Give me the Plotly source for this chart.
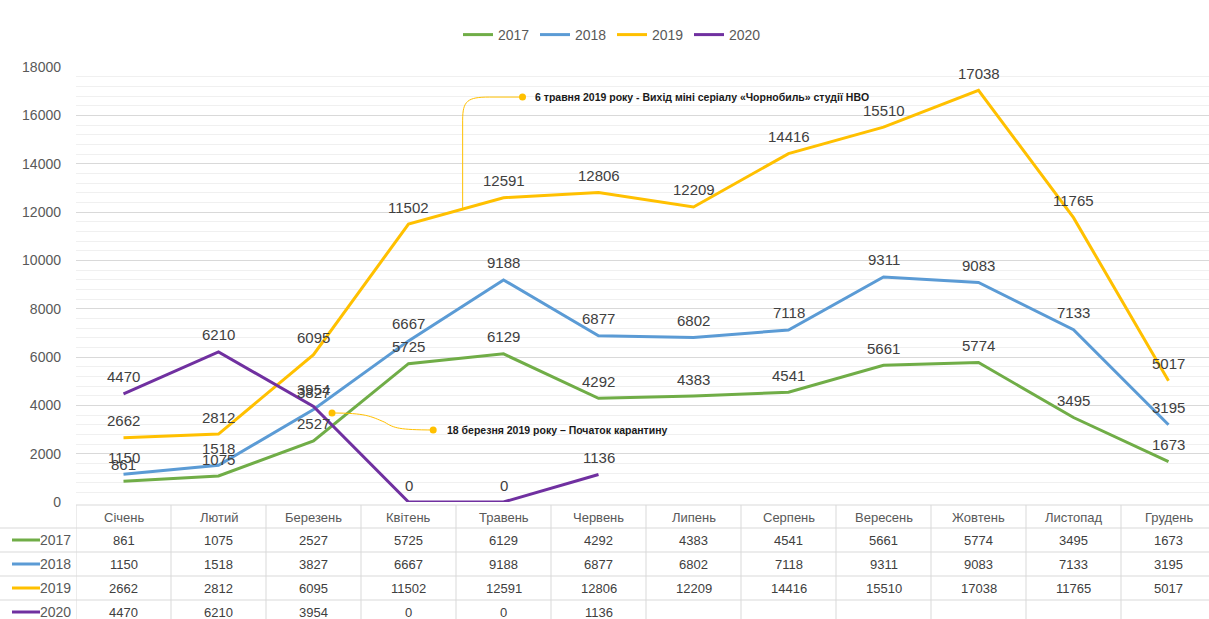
import plotly.graph_objects as go

W, H = 1209, 619

months = ["Січень", "Лютий", "Березень", "Квітень", "Травень", "Червень",
          "Липень", "Серпень", "Вересень", "Жовтень", "Листопад", "Грудень"]
years = ["2017", "2018", "2019", "2020"]
v2017 = [861, 1075, 2527, 5725, 6129, 4292, 4383, 4541, 5661, 5774, 3495, 1673]
v2018 = [1150, 1518, 3827, 6667, 9188, 6877, 6802, 7118, 9311, 9083, 7133, 3195]
v2019 = [2662, 2812, 6095, 11502, 12591, 12806, 12209, 14416, 15510, 17038, 11765, 5017]
v2020 = [4470, 6210, 3954, 0, 0, 1136]
series = [v2017, v2018, v2019, v2020]
colors = ["#70AD47", "#5B9BD5", "#FFC000", "#7030A0"]

note_hbo = "6 травня 2019 року - Вихід міні серіалу «Чорнобиль» студії HBO"
note_q = "18 березня 2019 року – Початок карантину"

FONT = "Liberation Sans"
TXT = "#404040"


def py(p):
    return 1 - p / H


# plot geometry (pixels)
X0 = 76          # left edge of plot / table
COLW = 95        # category width
Y0PX, YTOPPX = 502, 67
YMAX = 18000

fig = go.Figure()
xs = list(range(len(months)))
for name, vals, c in zip(years, series, colors):
    fig.add_trace(go.Scatter(
        x=xs[:len(vals)], y=vals, mode="lines", name=name,
        line=dict(color=c, width=3), hoverinfo="x+y"))

annotations = []
shapes = []

# data labels
for vals in series:
    for i, v in enumerate(vals):
        annotations.append(dict(
            x=i, y=v, xref="x", yref="y", text=str(v), showarrow=False,
            xanchor="center", yanchor="middle",
            yshift=17, font=dict(family=FONT, size=15, color=TXT)))

# callout 1: HBO Chornobyl (on the 2019 line)
xa = 3.57
ya = v2019[3] + (xa - 3) * (v2019[4] - v2019[3])
y_top = 16756
shapes.append(dict(
    type="path", xref="x", yref="y",
    path=f"M {xa},{ya} L {xa},15800 C {xa},16600 {xa+0.05},{y_top} {xa+0.28},{y_top} L 4.2,{y_top}",
    line=dict(color="#FFC000", width=1)))
# callout 2: quarantine
qx0, qy0 = 2.195, 3682
shapes.append(dict(
    type="path", xref="x", yref="y",
    path=f"M {qx0},{qy0} C 2.55,{qy0} 2.6,3550 2.75,3300 C 2.85,3050 2.9,2990 3.26,2979",
    line=dict(color="#FFC000", width=1)))
fig.add_trace(go.Scatter(
    x=[4.2, qx0, 3.26], y=[y_top, qy0, 2979], mode="markers",
    marker=dict(color="#FFC000", size=7), showlegend=False, hoverinfo="skip"))

annotations.append(dict(
    x=4.31, y=y_top, xref="x", yref="y", xanchor="left", yanchor="middle",
    text=f"<b>{note_hbo}</b>", showarrow=False,
    font=dict(family=FONT, size=10.5, color="#1a1a1a")))
annotations.append(dict(
    x=3.38, y=2979, xref="x", yref="y", xanchor="left", yanchor="middle",
    text=f"<b>{note_q}</b>", showarrow=False,
    font=dict(family=FONT, size=10.5, color="#1a1a1a")))

# data table
LINE = "#D9D9D9"
row_tops = [505, 528, 552, 576, 600, 624]
row_c = [517, 540, 564, 588, 612]
shapes.append(dict(type="line", xref="paper", yref="paper",
                   x0=X0 / W, x1=1, y0=py(row_tops[0]), y1=py(row_tops[0]),
                   line=dict(color=LINE, width=1)))
for yy in row_tops[1:]:
    shapes.append(dict(type="line", xref="paper", yref="paper",
                       x0=0, x1=1, y0=py(yy), y1=py(yy),
                       line=dict(color=LINE, width=1)))
for k in range(len(months) + 1):
    shapes.append(dict(type="line", xref="x", yref="paper",
                       x0=k - 0.5, x1=k - 0.5, y0=py(row_tops[0]), y1=0,
                       line=dict(color=LINE, width=1)))
for i, m in enumerate(months):
    annotations.append(dict(x=i, y=py(row_c[0]), xref="x", yref="paper",
                            xanchor="center", yanchor="middle",
                            text=m, showarrow=False,
                            font=dict(family=FONT, size=13, color="#595959")))
for r, (name, vals, c) in enumerate(zip(years, series, colors)):
    yc = py(row_c[r + 1])
    for i, v in enumerate(vals):
        annotations.append(dict(x=i, y=yc, xref="x", yref="paper",
                                xanchor="center", yanchor="middle",
                                text=str(v), showarrow=False,
                                font=dict(family=FONT, size=13, color=TXT)))
    annotations.append(dict(x=73 / W, y=yc, xref="paper", yref="paper",
                            xanchor="right", yanchor="middle",
                            text=name, showarrow=False,
                            font=dict(family=FONT, size=14, color="#595959")))
    shapes.append(dict(type="line", xref="paper", yref="paper",
                       x0=12 / W, x1=40 / W, y0=yc, y1=yc,
                       line=dict(color=c, width=3)))

fig.update_layout(
    width=W, height=H,
    margin=dict(l=0, r=0, t=0, b=0, pad=0, autoexpand=False),
    paper_bgcolor="white", plot_bgcolor="white",
    font=dict(family=FONT, color=TXT),
    showlegend=True,
    legend=dict(orientation="h", x=612 / W, xanchor="center",
                y=py(35), yanchor="middle",
                font=dict(family=FONT, size=14, color="#595959"),
                entrywidth=32, entrywidthmode="pixels",
                bgcolor="rgba(0,0,0,0)"),
    xaxis=dict(domain=[X0 / W, 1], range=[-0.5, (W - (X0 + COLW / 2)) / COLW],
               showgrid=False, zeroline=False, showticklabels=False,
               showline=False, fixedrange=True, automargin=False),
    yaxis=dict(domain=[py(Y0PX), py(YTOPPX)], range=[0, YMAX],
               dtick=2000, tick0=0, tickformat="d",
               gridcolor="#D9D9D9", gridwidth=1,
               minor=dict(dtick=400, showgrid=True, gridcolor="#F0F0F0"),
               zeroline=False, showline=False, ticks="",
               ticklabelstandoff=14, automargin=False,
               tickfont=dict(family=FONT, size=14, color="#595959"),
               fixedrange=True),
    annotations=annotations,
    shapes=shapes,
)

fig.write_html("out.html",
               config={"displayModeBar": False},
               post_script="document.body.style.margin='0';"
                           "document.body.style.overflow='hidden';")
